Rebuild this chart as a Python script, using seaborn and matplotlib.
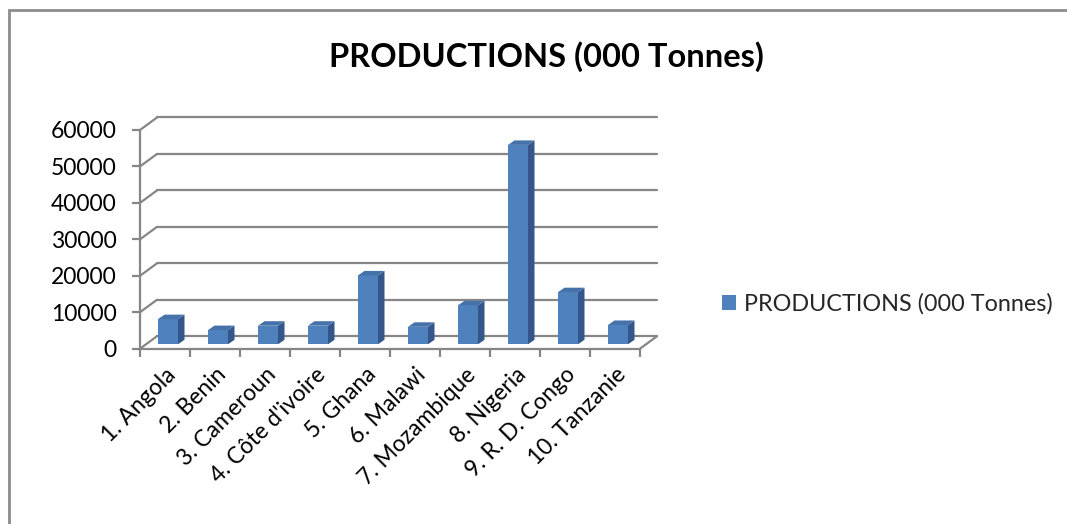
import numpy as np
import pandas as pd
import matplotlib
matplotlib.use("Agg")
import matplotlib.pyplot as plt
import seaborn as sns
from matplotlib.patches import Polygon, Rectangle, Patch
from matplotlib.transforms import ScaledTranslation

categories = ["1. Angola", "2. Benin", "3. Cameroun", "4. Côte d'ivoire", "5. Ghana",
              "6. Malawi", "7. Mozambique", "8. Nigeria", "9. R. D. Congo", "10. Tanzanie"]
productions = [6900, 3900, 5100, 5100, 18900, 4800, 10700, 54700, 14300, 5300]
series_name = "PRODUCTIONS (000 Tonnes)"
y_ticks = [0, 10000, 20000, 30000, 40000, 50000, 60000]

sns.set_theme(style="white")
plt.rcParams['font.family'] = ['Lato', 'DejaVu Sans']

DPI = 100
W, H = 1067, 524
fig = plt.figure(figsize=(W / DPI, H / DPI), dpi=DPI)

# axes geometry (pixels)
ax_left, ax_right = 140, 640
ax_top, ax_bot = 130, 348.7
ax = fig.add_axes([ax_left / W, 1 - ax_bot / H, (ax_right - ax_left) / W, (ax_bot - ax_top) / H])

df = pd.DataFrame({"cat": categories, "val": productions})
front = "#4F81BD"
side_c = "#34568A"
top_c = "#4672AA"
grid_c = "#868686"

sns.barplot(data=df, x="cat", y="val", color=front, width=0.4, saturation=1,
            ax=ax, zorder=3, edgecolor="none")

ax.set_xlim(-0.5, len(categories) - 0.5)
ax.set_ylim(0, 60000)

# pixel -> data conversion
xpp = (len(categories)) / (ax_right - ax_left)
ypp = 60000 / (ax_bot - ax_top)

# back wall offset
bdx, bdy = 17 * xpp, 12.5 * ypp
x0, x1 = -0.5, len(categories) - 0.5

# back gridlines and left-wall diagonals
for v in y_ticks:
    ax.plot([x0 + bdx, x1 + bdx], [v + bdy, v + bdy], color=grid_c, lw=1.6, clip_on=False, zorder=1)
    ax.plot([x0, x0 + bdx], [v, v + bdy], color=grid_c, lw=1.6, clip_on=False, zorder=1)
# floor front & right diagonal
ax.plot([x0, x1], [0, 0], color=grid_c, lw=1.6, clip_on=False, zorder=2)
ax.plot([x1, x1 + bdx], [0, bdy], color=grid_c, lw=1.6, clip_on=False, zorder=2)
ax.plot([x0, x0], [0, 60000], color=grid_c, lw=1.6, clip_on=False, zorder=2)

# pseudo-3D bar faces
shift = ScaledTranslation(3 / DPI, 4.4 / DPI, fig.dpi_scale_trans)
sdx, sdy = 6.5 * xpp, 4.5 * ypp
for p in list(ax.patches):
    p.set_transform(ax.transData + shift)
    x, w, h = p.get_x(), p.get_width(), p.get_height()
    side = Polygon([(x + w, 0), (x + w + sdx, sdy), (x + w + sdx, h + sdy), (x + w, h)],
                   closed=True, facecolor=side_c, edgecolor="none", zorder=3,
                   transform=ax.transData + shift, clip_on=False)
    top = Polygon([(x, h), (x + sdx, h + sdy), (x + w + sdx, h + sdy), (x + w, h)],
                  closed=True, facecolor=top_c, edgecolor="none", zorder=3,
                  transform=ax.transData + shift, clip_on=False)
    ax.add_patch(side)
    ax.add_patch(top)
    p.set_clip_on(False)

for s in ax.spines.values():
    s.set_visible(False)

ax.set_yticks(y_ticks)
ax.set_yticklabels([str(v) for v in y_ticks], fontsize=16.5, color="#000000")
ax.tick_params(axis="y", length=6, width=1.6, color=grid_c, pad=11, left=True)
ax.set_xticks(range(len(categories)))
ax.set_xticklabels(categories, rotation=45, ha="right", rotation_mode="anchor",
                   fontsize=16.5, color="#000000")
ax.tick_params(axis="x", length=0, pad=11)
ax.set_xticks(np.arange(-0.5, len(categories), 1.0), minor=True)
ax.tick_params(axis="x", which="minor", length=6, width=1.6, color=grid_c, bottom=True)
ax.set_xlabel("")
ax.set_ylabel("")
ax.grid(False)

fig.text(546 / W, 1 - 57 / H, series_name, ha="center", va="center",
         fontsize=23.5, fontweight="bold", color="#000000")

fig.legend(handles=[Patch(facecolor=front, edgecolor="none", label=series_name)],
           loc="center left", bbox_to_anchor=(701 / W, 1 - 304 / H), frameon=False,
           fontsize=16.8, handlelength=0.6, handleheight=0.6, handletextpad=0.35)

# outer chart frame
fig.patches.append(Rectangle((9 / W, -0.2), 1.2, 1.2 - 10 / H, transform=fig.transFigure,
                             fill=False, edgecolor="#8C8C8C", lw=2, zorder=0))

fig.savefig("out.png", dpi=DPI)
